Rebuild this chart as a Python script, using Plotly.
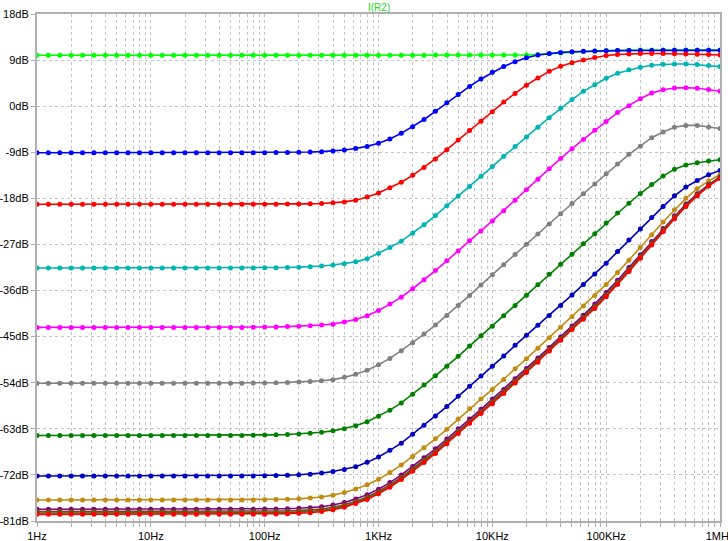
import plotly.graph_objects as go

# AC sweep: 10 points per decade, 1 Hz .. 1 MHz
mantissa = [1.0, 1.2589, 1.5849, 1.9953, 2.5119, 3.1623, 3.9811, 5.0119, 6.3096, 7.9433]
freq = [m * 10 ** d for d in range(6) for m in mantissa] + [1e6]

# |I(R2)| in dB, one list per stepped run
green = [9.95] * 35 + [10.0] * 9 + [10.1, 10.25, 10.4, 10.55, 10.68, 10.78, 10.85, 10.9, 10.93] + [10.95] * 8

blue = [-9.1] * 18 + [
    -9.1, -9.09, -9.08, -9.06, -9.04, -9.01, -8.96, -8.88, -8.75, -8.56,
    -8.25, -7.85, -7.26, -6.4, -5.3, -4.0, -2.6, -1.0, 0.65, 2.28,
    3.85, 5.32, 6.62, 7.76, 8.7, 9.45, 9.98, 10.3, 10.5, 10.63,
    10.72, 10.78, 10.82, 10.85, 10.87, 10.88, 10.89, 10.9, 10.9, 10.9,
    10.9, 10.9, 10.9]

red = [-19.15] * 20 + [
    -19.14, -19.13, -19.12, -19.1, -19.07, -19.0, -18.88, -18.69, -18.35, -17.75,
    -16.95, -15.95, -14.85, -13.5, -11.97, -10.3, -8.5, -6.62, -4.75, -2.95,
    -1.08, 0.8, 2.5, 4.1, 5.5, 6.8, 7.8, 8.5, 9.0, 9.5,
    9.88, 10.08, 10.2, 10.27, 10.28, 10.27, 10.22, 10.18, 10.13, 10.07, 10.0]

cyan = [-31.6] * 19 + [
    -31.58, -31.56, -31.53, -31.49, -31.43, -31.35, -31.22, -31.02, -30.78, -30.4,
    -29.8, -28.75, -27.6, -26.35, -24.8, -23.15, -21.35, -19.45, -17.55, -15.7,
    -13.7, -11.8, -9.8, -7.85, -6.0, -4.1, -2.25, -0.4, 1.3, 2.9,
    4.2, 5.45, 6.45, 7.1, 7.6, 7.98, 8.18, 8.25, 8.25, 8.12, 7.92, 7.73]

magenta = [-43.2] * 19 + [
    -43.17, -43.14, -43.1, -43.04, -42.96, -42.86, -42.72, -42.56, -42.15, -41.65,
    -40.9, -39.9, -38.65, -37.3, -35.65, -33.9, -32.1, -30.2, -28.3, -26.3,
    -24.35, -22.4, -20.4, -18.35, -16.3, -14.25, -12.2, -10.2, -8.3, -6.5,
    -4.7, -3.0, -1.25, 0.1, 1.45, 2.55, 3.2, 3.55, 3.62, 3.5, 3.25, 2.9]

gray = [-54.1] * 19 + [
    -54.07, -54.04, -54.0, -53.94, -53.86, -53.75, -53.6, -53.4, -52.95, -52.35,
    -51.55, -50.5, -49.25, -47.75, -46.2, -44.5, -42.75, -40.85, -38.9, -36.95,
    -34.9, -32.9, -30.95, -28.95, -26.95, -24.95, -23.0, -21.0, -19.0, -17.1,
    -15.2, -13.2, -11.3, -9.4, -7.8, -6.15, -5.05, -4.1, -3.75, -3.75, -4.05, -4.35]

dark_green = [-64.3] * 19 + [
    -64.27, -64.23, -64.18, -64.1, -64.0, -63.86, -63.66, -63.4, -62.97, -62.4,
    -61.6, -60.55, -59.35, -57.95, -56.25, -54.45, -52.65, -50.8, -48.85, -46.85,
    -44.85, -42.95, -40.9, -38.9, -36.9, -34.85, -32.8, -30.85, -28.9, -26.85,
    -24.9, -22.8, -20.85, -18.95, -17.05, -15.3, -13.65, -12.3, -11.5, -11.05, -10.7, -10.45]

dark_blue = [-72.2] * 19 + [
    -72.2, -72.18, -72.12, -72.06, -71.97, -71.85, -71.65, -71.35, -70.95, -70.4,
    -69.55, -68.5, -67.2, -65.8, -64.05, -62.3, -60.5, -58.65, -56.65, -54.7,
    -52.7, -50.8, -48.8, -46.7, -44.75, -42.8, -40.85, -38.9, -36.85, -34.8,
    -32.75, -30.65, -28.4, -26.15, -24.0, -21.75, -19.6, -17.5, -15.8, -14.5, -13.4, -12.56]

gold = [-76.9] * 19 + [
    -76.88, -76.86, -76.82, -76.76, -76.67, -76.53, -76.3, -75.95, -75.45, -74.75,
    -73.9, -72.85, -71.55, -70.05, -68.4, -66.7, -64.95, -63.1, -61.1, -59.1,
    -57.2, -55.3, -53.35, -51.25, -49.3, -47.25, -45.2, -43.15, -41.1, -39.0,
    -36.95, -34.8, -32.5, -30.1, -27.6, -25.1, -22.6, -20.2, -18.0, -16.1, -14.6, -13.4]

purple = [-78.7] * 19 + [
    -78.69, -78.67, -78.64, -78.59, -78.52, -78.42, -78.22, -77.88, -77.38, -76.68,
    -75.85, -74.8, -73.5, -72.0, -70.35, -68.65, -66.9, -65.0, -63.0, -61.1,
    -59.2, -57.2, -55.3, -53.2, -51.2, -49.15, -47.1, -45.05, -42.9, -40.8,
    -38.65, -36.4, -34.0, -31.5, -29.0, -26.4, -23.9, -21.4, -19.1, -17.1, -15.3, -13.8]

brown = [-79.15] * 19 + [
    -79.14, -79.12, -79.09, -79.04, -78.97, -78.87, -78.67, -78.33, -77.83, -77.13,
    -76.3, -75.25, -73.95, -72.45, -70.8, -69.1, -67.35, -65.45, -63.45, -61.5,
    -59.6, -57.65, -55.7, -53.6, -51.6, -49.55, -47.45, -45.4, -43.25, -41.2,
    -39.05, -36.8, -34.4, -31.9, -29.35, -26.75, -24.2, -21.7, -19.35, -17.3, -15.45, -13.9]

olive = [-79.45] * 19 + [
    -79.44, -79.42, -79.39, -79.34, -79.27, -79.17, -78.95, -78.6, -78.1, -77.4,
    -76.55, -75.5, -74.2, -72.7, -71.05, -69.35, -67.6, -65.7, -63.7, -61.75,
    -59.85, -57.9, -55.95, -53.85, -51.8, -49.8, -47.65, -45.55, -43.45, -41.4,
    -39.3, -37.0, -34.6, -32.1, -29.55, -26.95, -24.35, -21.85, -19.5, -17.4, -15.55, -14.0]

red_last = [-79.7] * 19 + [
    -79.68, -79.66, -79.62, -79.56, -79.5, -79.4, -79.15, -78.8, -78.3, -77.6,
    -76.8, -75.7, -74.4, -72.9, -71.3, -69.6, -67.8, -65.9, -63.9, -61.9,
    -60.0, -58.1, -56.1, -54.05, -52.0, -50.0, -47.8, -45.7, -43.6, -41.6,
    -39.5, -37.2, -34.8, -32.3, -29.7, -27.1, -24.5, -22.0, -19.6, -17.5, -15.6, -14.1]

runs = [
    (green, "#00ff00"), (blue, "#0000ff"), (red, "#ff0000"), (cyan, "#00b4b4"),
    (magenta, "#ff00ff"), (gray, "#808080"), (dark_green, "#008000"), (dark_blue, "#0000c0"),
    (gold, "#c08c14"), (purple, "#800080"), (brown, "#804020"), (olive, "#407010"),
    (red_last, "#ff0000"),
]

# Axis ticks: decades labelled, 2..9 gridlines unlabelled
decade_labels = ["1Hz", "10Hz", "100Hz", "1KHz", "10KHz", "100KHz", "1MHz"]
x_tickvals, x_ticktext = [], []
for d in range(6):
    for m in range(1, 10):
        x_tickvals.append(m * 10 ** d)
        x_ticktext.append(decade_labels[d] if m == 1 else "")
x_tickvals.append(1e6)
x_ticktext.append(decade_labels[6])

y_tickvals = [18, 9, 0, -9, -18, -27, -36, -45, -54, -63, -72, -81]
y_ticktext = [f"{v}dB" for v in y_tickvals]

label_font = dict(family="Liberation Sans, Arial, sans-serif", size=11, color="#000000")

fig = go.Figure()
for values, color in runs:
    assert len(values) == len(freq)
    fig.add_trace(go.Scatter(
        x=freq, y=values, mode="lines+markers",
        line=dict(color=color, width=1.6),
        marker=dict(color=color, size=5),
        hoverinfo="skip", showlegend=False,
    ))

axis_common = dict(
    showline=True, linecolor="#b0b0b0", linewidth=2, mirror=True,
    showgrid=True, gridcolor="#c4c4c4", gridwidth=1, griddash="dot",
    ticks="outside", ticklen=4, tickcolor="#b0b0b0", tickwidth=1,
    zeroline=False, automargin=False, tickfont=label_font,
    ticklabeloverflow="allow",
)

fig.update_xaxes(type="log", range=[0, 6], tickmode="array",
                 tickvals=x_tickvals, ticktext=x_ticktext, **axis_common)
fig.update_yaxes(range=[-81, 18], tickmode="array",
                 tickvals=y_tickvals, ticktext=y_ticktext, **axis_common)

fig.add_annotation(text="I(R2)", xref="paper", yref="paper", x=0.5, y=1,
                   yanchor="bottom", showarrow=False, yshift=-1,
                   font=dict(family="Liberation Sans, Arial, sans-serif", size=10, color="#22dd22"))

fig.update_layout(
    width=728, height=541,
    margin=dict(l=37, r=8, t=14, b=20),
    paper_bgcolor="#ffffff", plot_bgcolor="#ffffff",
)

fig.write_html("out.html", config={"displayModeBar": False})
